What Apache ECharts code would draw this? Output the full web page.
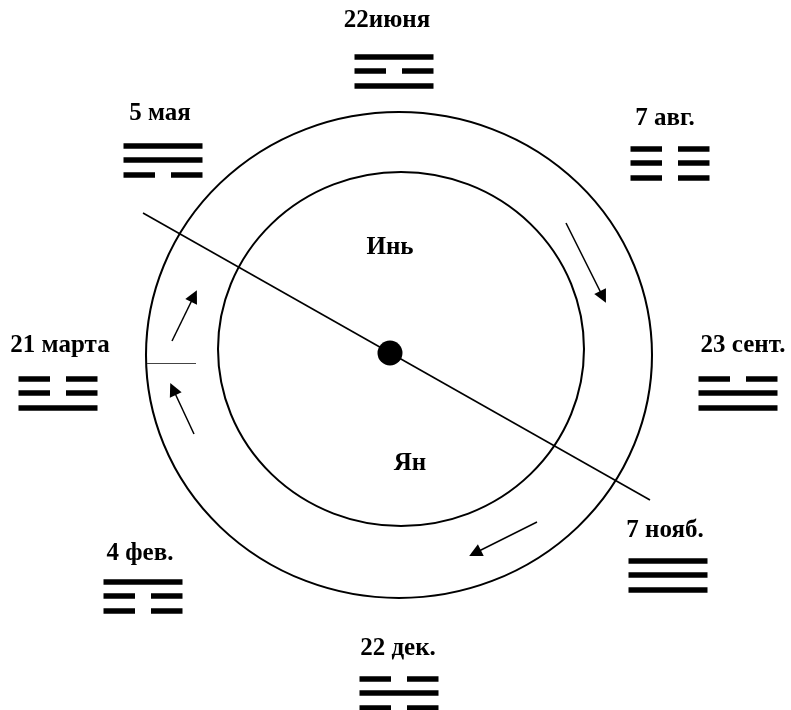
<!DOCTYPE html>
<html>
<head>
<meta charset="utf-8">
<script src="https://cdn.jsdelivr.net/npm/echarts@6/dist/echarts.min.js"></script>
<style>html,body{margin:0;padding:0;background:#fff;}#c{width:791px;height:710px;}</style>
</head>
<body>
<div id="c"></div>
<script>
// ---- data ----
const dates = ['22июня', '5 мая', '7 авг.', '21 марта', '23 сент.', '4 фев.', '7 нояб.', '22 дек.'];
// trigram lines, top to bottom: 1 = solid (yang), 0 = broken (yin)
const trigrams = [[1,0,1],[1,1,0],[0,0,0],[0,0,1],[0,1,1],[1,0,0],[1,1,1],[0,1,0]];
const centerLabels = ['Инь', 'Ян'];

// ---- layout (pixel-like coordinate space) ----
const labelPos = [[387,21],[160,114],[665,119],[60,346],[743,346],[140,554],[665,531],[398,649]];
const trigramPos = [[394,71],[163,160],[670,163],[58,393],[738,393],[143,596],[668,575],[399,693]];
const centerLabelPos = [[390,248],[410,464]];
const outerRing = {c:[399,355], rx:253, ry:243};
const innerRing = {c:[401,349], rx:183, ry:177};
const axisLine = [[143,213],[650,500]];
const arrows = [[[566,223],[603,297]],[[537,522],[475,553]],[[172,341],[194,296]],[[194,434],[173,389]]];
const tick = [[147,363],[196,363]];
const hub = [390,353];

const W = 79, GAP = 16, SP = 14.5;
const barLines = [];
trigrams.forEach((t, i) => {
  const [cx, cy] = trigramPos[i];
  t.forEach((v, k) => {
    const y = cy + (k - 1) * SP;
    if (v) barLines.push({coords: [[cx - W/2, y], [cx + W/2, y]]});
    else {
      const s = (W - GAP) / 2;
      barLines.push({coords: [[cx - W/2, y], [cx - W/2 + s, y]]});
      barLines.push({coords: [[cx + W/2 - s, y], [cx + W/2, y]]});
    }
  });
});

const font = {fontFamily: '"Liberation Serif", "DejaVu Serif", serif', fontWeight: 'bold', fontSize: 25, color: '#000', textBorderWidth: 0, opacity: 1};

const chart = echarts.init(document.getElementById('c'));
chart.setOption({
  animation: false,
  backgroundColor: '#fff',
  grid: {left: 0, right: 0, top: 0, bottom: 0},
  xAxis: {type: 'value', min: 0, max: 791, show: false},
  yAxis: {type: 'value', min: 0, max: 710, inverse: true, show: false},
  series: [
    {
      type: 'scatter', silent: true, z: 2,
      data: [
        {value: outerRing.c, symbolSize: [outerRing.rx*2, outerRing.ry*2]},
        {value: innerRing.c, symbolSize: [innerRing.rx*2, innerRing.ry*2]}
      ],
      symbol: 'circle',
      itemStyle: {color: 'rgba(0,0,0,0)', borderColor: '#000', borderWidth: 2, opacity: 1}
    },
    {
      type: 'lines', coordinateSystem: 'cartesian2d', silent: true, z: 3,
      data: [{coords: axisLine}],
      lineStyle: {color: '#000', width: 1.6, opacity: 1}
    },
    {
      type: 'lines', coordinateSystem: 'cartesian2d', silent: true, z: 3,
      data: [{coords: tick}],
      lineStyle: {color: '#444', width: 1, opacity: 1}
    },
    {
      type: 'lines', coordinateSystem: 'cartesian2d', silent: true, z: 3,
      data: arrows.map(a => ({coords: a})),
      symbol: ['none', 'triangle'], symbolSize: 13,
      itemStyle: {color: '#333'},
      lineStyle: {color: '#000', width: 1.5, opacity: 1}
    },
    {
      type: 'lines', coordinateSystem: 'cartesian2d', silent: true, z: 3,
      data: barLines,
      lineStyle: {color: '#000', width: 5.5, opacity: 1, cap: 'butt'}
    },
    {
      type: 'scatter', silent: true, z: 5,
      data: [{value: hub}],
      symbol: 'circle', symbolSize: 25,
      itemStyle: {color: '#000', opacity: 1}
    },
    {
      type: 'scatter', silent: true, z: 6,
      symbolSize: 0,
      itemStyle: {opacity: 1},
      data: dates.map((d, i) => ({name: d, value: labelPos[i]})).concat(
            centerLabels.map((d, i) => ({name: d, value: centerLabelPos[i]}))),
      label: Object.assign({show: true, position: 'inside', formatter: p => p.name}, font)
    }
  ]
});
</script>
</body>
</html>
